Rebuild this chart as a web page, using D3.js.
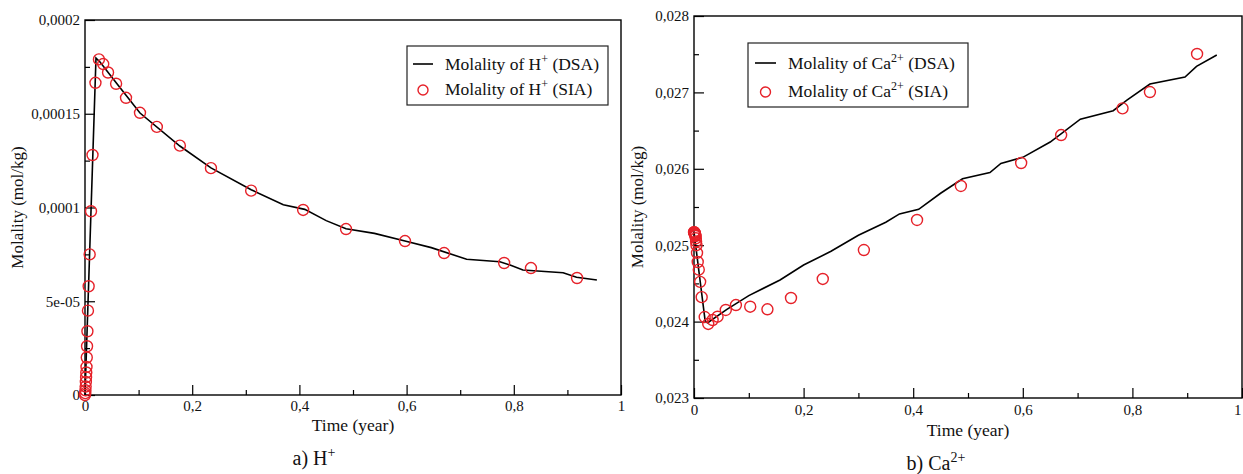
<!DOCTYPE html>
<html>
<head>
<meta charset="utf-8">
<script src="https://cdn.jsdelivr.net/npm/d3@7"></script>
<style>
  html, body { margin: 0; padding: 0; background: #fff; }
  svg { display: block; font-family: "Liberation Serif", "Times New Roman", serif; }
</style>
</head>
<body>
<svg id="chart" width="1243" height="474"></svg>
<script>
// ---------------- DATA ----------------
// SIA sample times (year), shared by both panels
const siaTime = [0, 0.0004, 0.0008, 0.0012, 0.0016, 0.002, 0.0024, 0.0028, 0.0033, 0.0038,
  0.0045, 0.0055, 0.0068, 0.0087, 0.0112, 0.014, 0.0195, 0.026, 0.034, 0.043,
  0.058, 0.0765, 0.1026, 0.134, 0.177, 0.235, 0.31, 0.407, 0.487, 0.597,
  0.67, 0.782, 0.832, 0.918];
// H+ molality (SIA), mol/kg
const siaH = [0.0000000, 0.0000010, 0.0000025, 0.0000045, 0.0000070, 0.0000095, 0.0000120, 0.0000150, 0.0000200, 0.0000260,
  0.0000340, 0.0000450, 0.0000580, 0.0000750, 0.0000980, 0.0001280, 0.0001665, 0.0001790, 0.0001765, 0.0001720,
  0.0001660, 0.0001585, 0.0001505, 0.0001430, 0.0001330, 0.0001210, 0.0001090, 0.0000987, 0.0000885, 0.0000821,
  0.0000757, 0.0000704, 0.0000677, 0.0000624];
// Ca2+ molality (SIA), mol/kg
const siaCa = [0.02517, 0.02517, 0.02516, 0.02516, 0.02515, 0.02514, 0.02513, 0.02512, 0.02509, 0.02505,
  0.02500, 0.02490, 0.02478, 0.02468, 0.02452, 0.02432, 0.02406, 0.023969, 0.024021, 0.024064,
  0.024152, 0.024217, 0.024195, 0.024161, 0.024309, 0.024558, 0.024937, 0.02533, 0.025775, 0.026076,
  0.026442, 0.026791, 0.027005, 0.027503];

// DSA curves
const dsaHTime = [0, 0.0205, 0.028, 0.06, 0.1026, 0.177, 0.235, 0.31, 0.37, 0.41, 0.45, 0.487,
  0.54, 0.597, 0.646, 0.712, 0.774, 0.793, 0.817, 0.892, 0.917, 0.955];
const dsaH = [0, 0.0001797, 0.0001776, 0.0001659, 0.0001504, 0.0001328, 0.0001211, 0.0001095, 0.0001015, 0.0000990,
  0.0000930, 0.0000887, 0.0000862, 0.0000821, 0.0000786, 0.0000724, 0.0000711, 0.0000693, 0.0000667, 0.0000652,
  0.0000628, 0.0000613];
const dsaCaTime = [0, 0.0205, 0.025, 0.06, 0.10, 0.157, 0.2, 0.25, 0.3, 0.35, 0.375, 0.41, 0.45, 0.49,
  0.54, 0.56, 0.6, 0.65, 0.705, 0.765, 0.79, 0.832, 0.896, 0.917, 0.954];
const dsaCa = [0.02517, 0.02400, 0.023985, 0.02416, 0.02434, 0.024545, 0.02474, 0.02492, 0.02513, 0.02530,
  0.02541, 0.02547, 0.02568, 0.02587, 0.02595, 0.02607, 0.02615, 0.02635, 0.02665, 0.02676,
  0.02690, 0.02711, 0.02720, 0.02734, 0.02749];

// Ticks
const xMajor = [0, 0.2, 0.4, 0.6, 0.8, 1];
const xMajorLabels = ["0", "0,2", "0,4", "0,6", "0,8", "1"];
const xMinor = [0.1, 0.3, 0.5, 0.7, 0.9];
const yHMajor = [0, 0.00005, 0.0001, 0.00015, 0.0002];
const yHMajorLabels = ["0", "5e-05", "0,0001", "0,00015", "0,0002"];
const yHMinor = [0.000025, 0.000075, 0.000125, 0.000175];
const yCaMajor = [0.023, 0.024, 0.025, 0.026, 0.027, 0.028];
const yCaMajorLabels = ["0,023", "0,024", "0,025", "0,026", "0,027", "0,028"];
const yCaMinor = [0.0235, 0.0245, 0.0255, 0.0265, 0.0275];

// ---------------- DRAW ----------------
const svg = d3.select("#chart");
const RED = "#e62129";
const SERIF = "'Liberation Serif', 'Times New Roman', serif";

function panel(cfg) {
  const g = svg.append("g");
  const x = d3.scaleLinear().domain([0, 1]).range([cfg.x0, cfg.x1]);
  const y = d3.scaleLinear().domain(cfg.yDomain).range([cfg.y0, cfg.y1]);

  // frame
  g.append("rect")
    .attr("x", cfg.x0).attr("y", cfg.y1)
    .attr("width", cfg.x1 - cfg.x0).attr("height", cfg.y0 - cfg.y1)
    .attr("fill", "none").attr("stroke", "#000").attr("stroke-width", 1.4);

  // x axis major
  const fmtX = (d) => xMajorLabels[xMajor.indexOf(d)];
  const ax = g.append("g").attr("transform", `translate(0,${cfg.y0})`)
    .call(d3.axisBottom(x).tickValues(xMajor).tickFormat(fmtX).tickSizeInner(-10).tickSizeOuter(0).tickPadding(cfg.xPad));
  const axm = g.append("g").attr("transform", `translate(0,${cfg.y0})`)
    .call(d3.axisBottom(x).tickValues(xMinor).tickFormat("").tickSizeInner(-5).tickSizeOuter(0));
  // y axis
  const fmtY = (d) => cfg.yLabels[cfg.yMajor.indexOf(d)];
  const ay = g.append("g").attr("transform", `translate(${cfg.x0},0)`)
    .call(d3.axisLeft(y).tickValues(cfg.yMajor).tickFormat(fmtY).tickSizeInner(-10).tickSizeOuter(0).tickPadding(5));
  const aym = g.append("g").attr("transform", `translate(${cfg.x0},0)`)
    .call(d3.axisLeft(y).tickValues(cfg.yMinor).tickFormat("").tickSizeInner(-5).tickSizeOuter(0));
  [ax, axm, ay, aym].forEach(a => {
    a.attr("font-family", null).attr("font-size", null);
    a.select(".domain").remove();
    a.selectAll("line").attr("stroke", "#000").attr("stroke-width", 1.2);
    a.selectAll("text").style("font-family", SERIF).style("font-size", "15px").attr("fill", "#111");
  });
  // keep the last x label ("1") inside the page
  if (cfg.clampLast) {
    ax.selectAll(".tick").filter(d => d === 1).select("text").attr("text-anchor", "end").attr("dx", -1);
  }

  // DSA line
  const line = d3.line().x((d, i) => x(cfg.lineT[i])).y(d => y(d));
  g.append("path").datum(cfg.lineV).attr("d", line)
    .attr("fill", "none").attr("stroke", "#000").attr("stroke-width", 1.6);

  // SIA circles
  g.selectAll("circle.sia").data(cfg.ptV).enter().append("circle")
    .attr("class", "sia")
    .attr("cx", (d, i) => x(siaTime[i])).attr("cy", d => y(d)).attr("r", 5.5)
    .attr("fill", "none").attr("stroke", RED).attr("stroke-width", 1.4);

  // axis titles
  g.append("text").attr("x", (cfg.x0 + cfg.x1) / 2).attr("y", cfg.xTitleY)
    .attr("text-anchor", "middle").style("font-size", "17.5px").attr("fill", "#111").text("Time (year)");
  g.append("text").attr("transform", `translate(${cfg.yTitleX},${(cfg.y0 + cfg.y1) / 2}) rotate(-90)`)
    .attr("text-anchor", "middle").style("font-size", "17px").attr("fill", "#111").text("Molality (mol/kg)");

  // legend
  const L = cfg.legend;
  const lg = g.append("g");
  lg.append("rect").attr("x", L.x).attr("y", L.y).attr("width", L.w).attr("height", L.h)
    .attr("fill", "#fff").attr("stroke", "#222").attr("stroke-width", 1.2);
  lg.append("line").attr("x1", L.x + L.s0).attr("x2", L.x + L.s1)
    .attr("y1", L.y + L.r1 - 6).attr("y2", L.y + L.r1 - 6)
    .attr("stroke", "#000").attr("stroke-width", 1.6);
  lg.append("circle").attr("cx", L.x + (L.s0 + L.s1) / 2).attr("cy", L.y + L.r2 - 5).attr("r", 5)
    .attr("fill", "none").attr("stroke", RED).attr("stroke-width", 1.4);
  [[L.r1, " (DSA)"], [L.r2, " (SIA)"]].forEach(([ry, suffix]) => {
    const t = lg.append("text").attr("x", L.x + L.tx).attr("y", L.y + ry)
      .style("font-size", "17.5px").attr("fill", "#111");
    t.append("tspan").text("Molality of " + cfg.ion);
    t.append("tspan").attr("dy", -7).style("font-size", "12px").text(cfg.charge);
    t.append("tspan").attr("dy", 7).text(suffix);
  });

  // caption
  const c = svg.append("text").attr("x", cfg.capX).attr("y", cfg.capY)
    .attr("text-anchor", "middle").style("font-size", "20px").attr("fill", "#111");
  c.append("tspan").text(cfg.capPrefix + cfg.ion);
  c.append("tspan").attr("dy", -8).style("font-size", "14px").text(cfg.charge);
}

panel({
  x0: 85, x1: 621, y0: 395, y1: 20, yDomain: [0, 0.0002],
  yMajor: yHMajor, yLabels: yHMajorLabels, yMinor: yHMinor,
  lineT: dsaHTime, lineV: dsaH, ptV: siaH,
  xPad: 5, xTitleY: 431, yTitleX: 23, clampLast: false,
  legend: { x: 407, y: 46, w: 201, h: 59, s0: 6, s1: 26, tx: 38, r1: 24, r2: 49 },
  ion: "H", charge: "+", capPrefix: "a) ", capX: 314, capY: 465
});

panel({
  x0: 694, x1: 1242, y0: 398, y1: 16, yDomain: [0.023, 0.028],
  yMajor: yCaMajor, yLabels: yCaMajorLabels, yMinor: yCaMinor,
  lineT: dsaCaTime, lineV: dsaCa, ptV: siaCa,
  xPad: 6, xTitleY: 436, yTitleX: 643, clampLast: true,
  legend: { x: 748, y: 43, w: 220, h: 64, s0: 7, s1: 28, tx: 40, r1: 26, r2: 54 },
  ion: "Ca", charge: "2+", capPrefix: "b) ", capX: 936, capY: 470
});
</script>
</body>
</html>
